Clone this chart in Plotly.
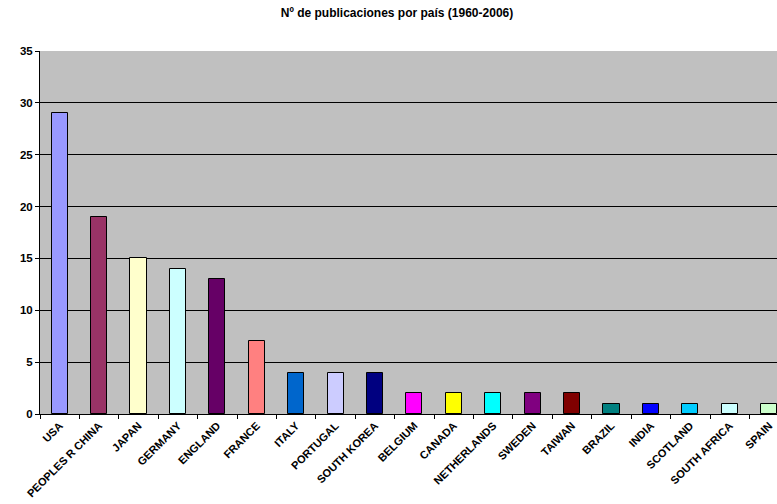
import plotly.graph_objects as go

countries = ["USA", "PEOPLES R CHINA", "JAPAN", "GERMANY", "ENGLAND", "FRANCE",
             "ITALY", "PORTUGAL", "SOUTH KOREA", "BELGIUM", "CANADA", "NETHERLANDS",
             "SWEDEN", "TAIWAN", "BRAZIL", "INDIA", "SCOTLAND", "SOUTH AFRICA", "SPAIN"]
publications = [29, 19, 15, 14, 13, 7, 4, 4, 4, 2, 2, 2, 2, 2, 1, 1, 1, 1, 1]
bar_colors = ["#9999FF", "#993366", "#FFFFCC", "#CCFFFF", "#660066", "#FF8080",
              "#0066CC", "#CCCCFF", "#000080", "#FF00FF", "#FFFF00", "#00FFFF",
              "#800080", "#800000", "#008080", "#0000FF", "#00CCFF", "#CCFFFF", "#CCFFCC"]
y_ticks = [0, 5, 10, 15, 20, 25, 30, 35]

font_family = "Liberation Sans, Arial, sans-serif"

fig = go.Figure(go.Bar(
    x=countries,
    y=publications,
    marker=dict(color=bar_colors, line=dict(color="#000000", width=1)),
    width=0.41,
))

fig.update_layout(
    width=777, height=504,
    margin=dict(l=40, r=0, t=51, b=90),
    paper_bgcolor="#FFFFFF",
    plot_bgcolor="#C0C0C0",
    showlegend=False,
    bargap=0,
    title=dict(
        text="Nº de publicaciones por país (1960-2006)",
        x=397 / 777, xanchor="center",
        y=1 - 13 / 504, yanchor="middle",
        font=dict(family=font_family, size=12, color="#000000", weight="bold"),
    ),
)

fig.update_xaxes(
    type="category",
    range=[-0.5, 18.2],
    tickangle=-45,
    tickson="boundaries",
    ticks="outside", ticklen=4, tickcolor="#000000", tickwidth=1,
    showline=True, linecolor="#000000", linewidth=1,
    showgrid=False,
    tickfont=dict(family=font_family, size=11, color="#000000", weight="bold"),
)

fig.update_yaxes(
    range=[0, 35],
    tickvals=y_ticks,
    ticks="outside", ticklen=4, tickcolor="#000000", tickwidth=1,
    showline=True, linecolor="#000000", linewidth=1,
    showgrid=True, gridcolor="#000000", gridwidth=1,
    zeroline=False,
    tickfont=dict(family=font_family, size=11.5, color="#000000", weight="bold"),
)

fig.write_html("out.html")
